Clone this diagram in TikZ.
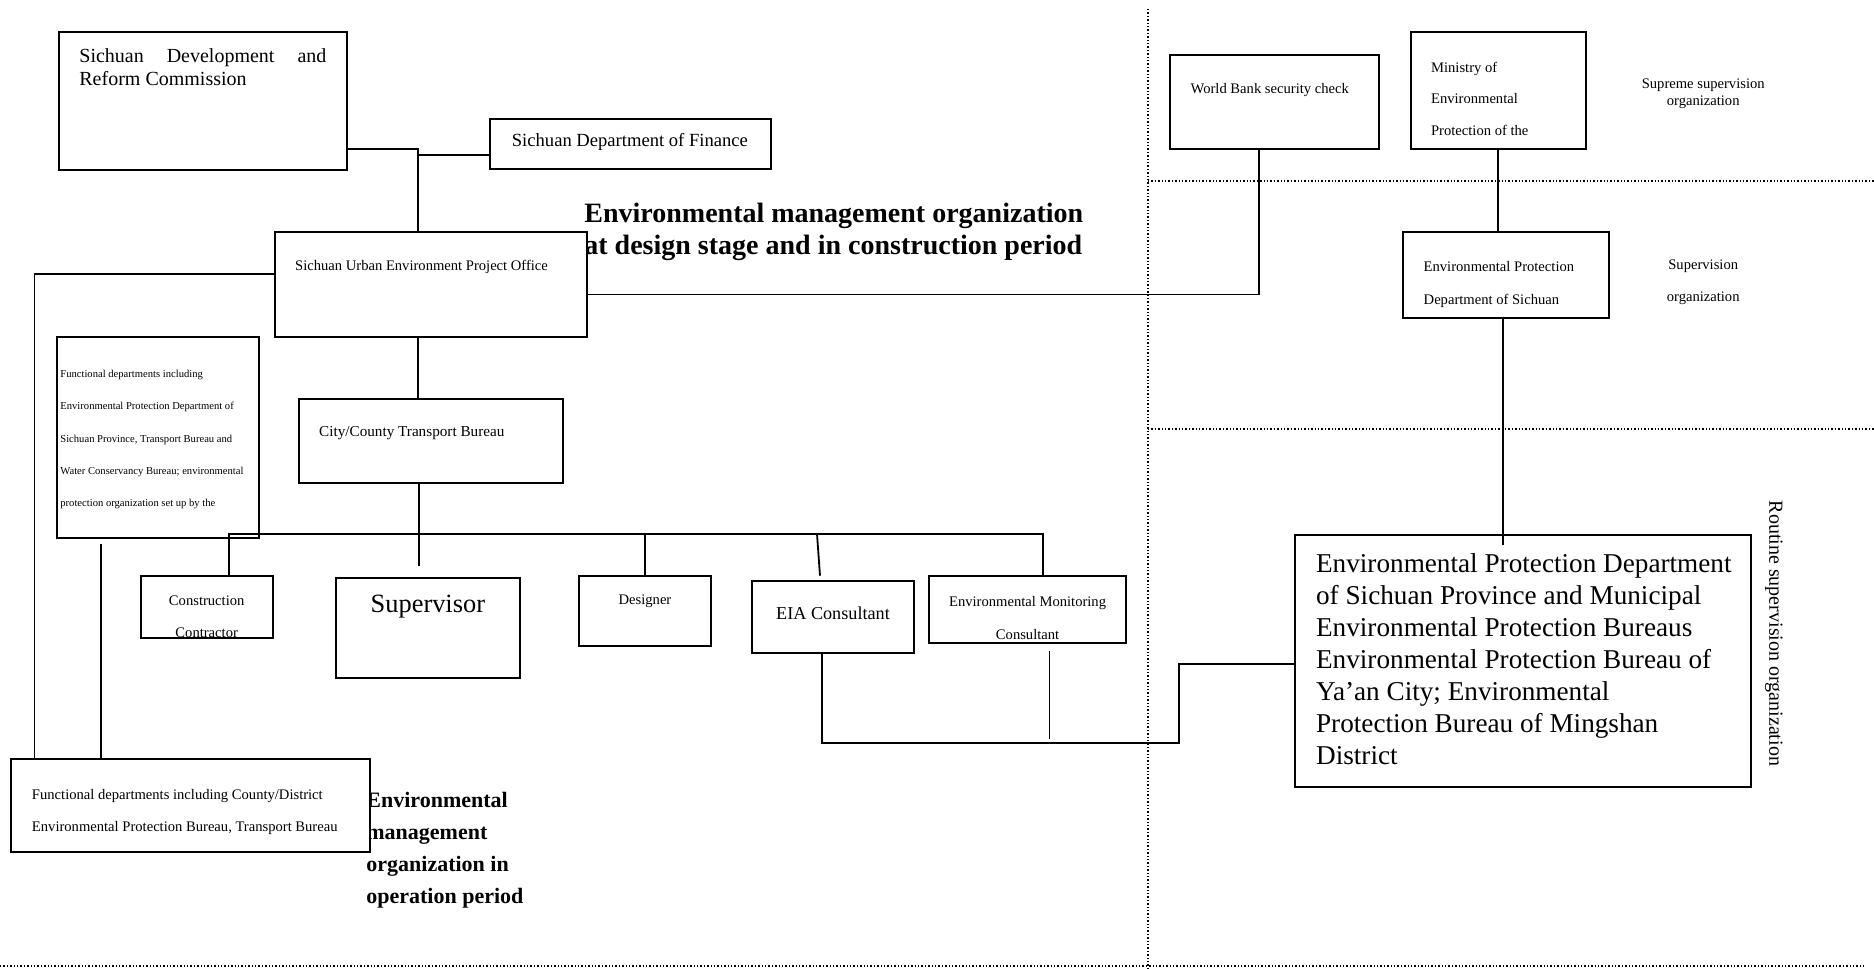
\documentclass[tikz,border=0pt]{standalone}
\usepackage{fontspec}
\setmainfont{Liberation Serif}
\usetikzlibrary{fit,calc}

\newcommand{\orgsize}[2]{\fontsize{#1}{#2}\selectfont}

\tikzset{
  orgbox/.style={draw, line width=1pt, fill=white, inner sep=0pt},
  link/.style={line width=0.9pt},
  zone/.style={densely dotted, line width=0.7pt},
  lbl/.style={inner sep=0pt, align=left, anchor=north west},
  clbl/.style={inner sep=0pt, align=center},
}

\begin{document}
\begin{tikzpicture}[x=0.5pt,y=-0.5pt]
\useasboundingbox (0,0) rectangle (1874,969);
% zone borders
\draw[zone] (1148,9) -- (1148,969);
\draw[zone] (1148,181) -- (1874,181);
\draw[zone] (1148,429) -- (1874,429);
\draw[zone] (0,966) -- (1864,966);
% stage titles
\node[lbl, font={\orgsize{14}{16}\bfseries}] (design) at (584,203) {Environmental management organization\\at design stage and in construction period};
\node[lbl, font={\orgsize{11}{16}\bfseries}] (oper) at (366,792) {Environmental\\management\\organization in\\operation period};
% boxes
\node[orgbox, fit={(59,32) (347,170)}] (sdrc) {};
\node[orgbox, fit={(490,119) (771,169)}] (fin) {};
\node[orgbox, fit={(274.5,232.3) (586.5,336.7)}] (po) {};
\node[orgbox, fit={(57.4,336.7) (259,538.3)}] (func) {};
\node[orgbox, fit={(298.5,399) (563.3,482.7)}] (cctb) {};
\node[orgbox, fit={(141.2,575.7) (273.2,638.3)}] (cc) {};
\node[orgbox, fit={(336,577.7) (519.7,678.3)}] (sup) {};
\node[orgbox, fit={(579,575.7) (710.7,645.7)}] (des) {};
\node[orgbox, fit={(751.7,580.7) (914.3,652.7)}] (eia) {};
\node[orgbox, fit={(928.9,575.7) (1126.3,643.3)}] (emc) {};
\node[orgbox, fit={(10.5,759) (370.4,852.3)}] (county) {};
\node[orgbox, fit={(1170,55) (1379,149.3)}] (wb) {};
\node[orgbox, fit={(1410.5,31.7) (1586.2,149.3)}] (min) {};
\node[orgbox, fit={(1403,232.3) (1609.4,317.7)}] (epd) {};
\node[orgbox, fit={(1295,535) (1750.6,786.7)}] (big) {};
% connectors
\coordinate (j1) at (418,149);
\coordinate (j2) at (418,155);
\draw[link] (sdrc.east |- j1) -- (j1) -- (j1 |- po.north);
\draw[link] (j2) -- (j2 -| fin.west);
\draw[link] (j1 |- po.south) -- (j1 |- cctb.north);
\coordinate (supTop) at (419,566);
\draw[link] (supTop |- cctb.south) -- (supTop);
\coordinate (busL) at (229,534);
\coordinate (busR) at (1043,534);
\draw[link] (busL |- cc.north) -- (busL) -- (busR) -- (busR |- emc.north);
\draw[link] (des.north |- busL) -- (des.north);
\draw[link] ($(eia.north |- busL)+(-16,0)$) -- ($(eia.north)+(-13,-4)$);
\coordinate (j3) at (34.5,274);
\draw[link] (j3 -| po.west) -- (j3) -- (j3 |- county.north);
\coordinate (fd) at (101,544);
\draw[link] (fd) -- (fd |- county.north);
\coordinate (j4) at (1259,294.5);
\draw[link] (j4 -| po.east) -- (j4) -- (j4 |- wb.south);
\draw[link] (min.south) -- (min.south |- epd.north);
\coordinate (k1) at (1503.3,545);
\draw[link] (k1 |- epd.south) -- (k1);
\coordinate (m1) at (822,742.7);
\coordinate (m2) at (1179,742.7);
\coordinate (m3) at (1179,664);
\draw[link] (m1 |- eia.south) -- (m1) -- (m2) -- (m3) -- (m3 -| big.west);
\coordinate (m4) at (1049.4,739);
\draw[link] ($(m4 |- emc.south)+(0,7)$) -- (m4);
% texts
\node[lbl, text width=123.5pt, align=justify, font={\orgsize{10}{11.7}\hyphenpenalty=10000}] (sdrc-t) at (79,48) {Sichuan Development and Reform Commission};
\node[lbl, anchor=west, font=\orgsize{9.3}{11}] (fin-t) at (511.5,142) {Sichuan Department of Finance};
\node[lbl, anchor=west, font=\orgsize{7.3}{9}] (po-t) at (294.8,266.7) {Sichuan Urban Environment Project Office};
\node[lbl, font=\orgsize{5.3}{16.2}] (func-t) at (60,369.5) {Functional departments including\\Environmental Protection Department of\\Sichuan Province, Transport Bureau and\\Water Conservancy Bureau; environmental\\protection organization set up by the};
\node[lbl, anchor=west, font=\orgsize{7.6}{9}] (cctb-t) at (318.8,433.3) {City/County Transport Bureau};
\node[clbl, anchor=north, font=\orgsize{7.3}{16}] (cc-t) at (206.7,595.7) {Construction\\Contractor};
\node[clbl, font=\orgsize{13.2}{15}] (sup-t) at (427.9,606.7) {Supervisor};
\node[clbl, font=\orgsize{7.3}{9}] (des-t) at (645,601.7) {Designer};
\node[clbl, font=\orgsize{9.1}{11}] (eia-t) at (833,613.3) {EIA Consultant};
\node[clbl, anchor=north, font=\orgsize{7.3}{16.3}] (emc-t) at (1027.6,596.4) {Environmental Monitoring\\Consultant};
\node[lbl, font=\orgsize{7.3}{16}] (county-t) at (31.6,788.7) {Functional departments including County/District\\Environmental Protection Bureau, Transport Bureau};
\node[lbl, anchor=west, font=\orgsize{7.3}{9}] (wb-t) at (1190.3,90) {World Bank security check};
\node[lbl, font=\orgsize{7.3}{15.8}] (min-t) at (1430.7,61.4) {Ministry of\\Environmental\\Protection of the};
\node[lbl, font=\orgsize{7.3}{16.2}] (epd-t) at (1423.3,261.4) {Environmental Protection\\Department of Sichuan};
\node[clbl, font=\orgsize{7.3}{8.7}] (supreme) at (1703.2,93.7) {Supreme supervision\\organization};
\node[clbl, font=\orgsize{7.3}{15.8}] (superv) at (1703.2,282.5) {Supervision\\organization};
\node[lbl, font=\orgsize{13.6}{16}] (big-t) at (1315.7,553.5) {Environmental Protection Department\\of Sichuan Province and Municipal\\Environmental Protection Bureaus\\Environmental Protection Bureau of\\Ya’an City; Environmental\\Protection Bureau of Mingshan\\District};
\node[clbl, rotate=-90, font=\orgsize{10}{12}] (routine) at (1773.8,633.4) {Routine supervision organization};
\end{tikzpicture}
\end{document}
